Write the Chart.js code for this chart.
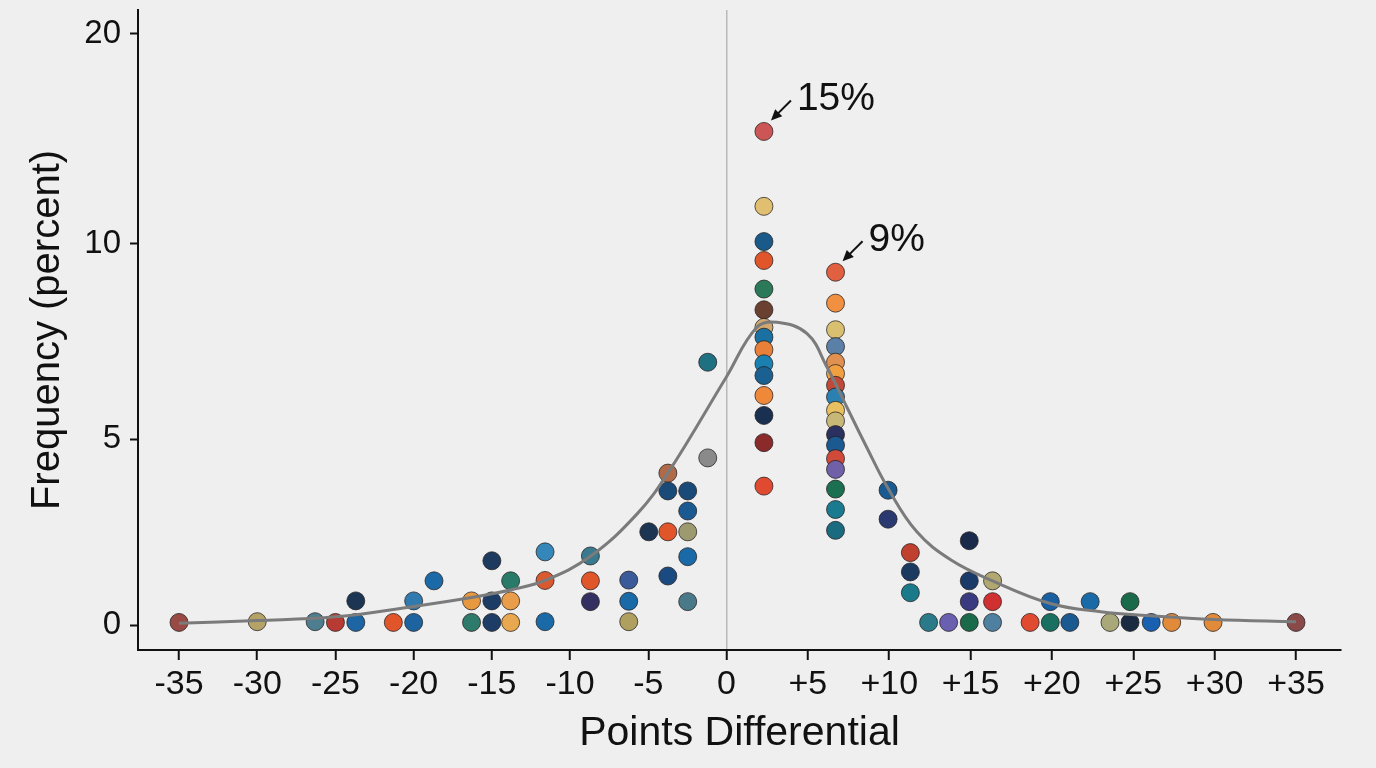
<!DOCTYPE html>
<html>
<head>
<meta charset="utf-8">
<script src="https://cdn.jsdelivr.net/npm/chart.js@4.4.1/dist/chart.umd.min.js"></script>
<style>
  html, body { margin: 0; padding: 0; background: #efefef; }
  canvas { display: block; background: #efefef; }
</style>
</head>
<body>
<canvas id="c" width="1376" height="768"></canvas>
<script>
// ---- DATA ----
const xTicks = [-35, -30, -25, -20, -15, -10, -5, 0, 5, 10, 15, 20, 25, 30, 35];
const yTicks = [0, 5, 10, 20];

// observed frequencies (points differential, percent)
const pointX = [
  -35, -30, -26.3, -25, -23.7, -23.7, -21.3, -20, -20, -18.7,
  -16.3, -16.3, -15, -15, -15, -13.8, -13.8, -13.8, -11.6, -11.6, -11.6,
  -8.7, -8.7, -8.7, -6.25, -6.25, -6.25, -4.97, -3.75, -3.75, -3.75, -3.75,
  -2.48, -2.48, -2.48, -2.48, -2.48, -1.2, -1.2,
  2.3, 2.3, 2.3, 2.3, 2.3, 2.3, 2.3, 2.3, 2.3, 2.3, 2.3, 2.3, 2.3, 2.3, 2.3,
  6.7, 6.7, 6.7, 6.7, 6.7, 6.7, 6.7, 6.7, 6.7, 6.7, 6.7, 6.7, 6.7, 6.7, 6.7, 6.7, 6.7,
  9.93, 9.93, 11.3, 11.3, 11.3, 12.42, 13.65, 14.92, 14.92, 14.92, 14.92,
  16.35, 16.35, 16.35, 18.66, 19.9, 19.9, 21.1, 22.35, 23.57, 24.8, 24.8,
  26.1, 27.36, 29.9, 35
];
const pointY = [
  0.07, 0.09, 0.09, 0.07, 0.07, 0.65, 0.07, 0.07, 0.65, 1.19,
  0.07, 0.65, 0.07, 0.65, 1.73, 0.07, 0.65, 1.19, 0.09, 1.2, 1.97,
  0.63, 1.19, 1.86, 0.09, 0.64, 1.21, 2.51, 1.32, 2.51, 3.61, 4.09,
  0.63, 1.84, 2.51, 3.07, 3.61, 4.5, 6.97,
  15.35, 11.78, 10.1, 9.57, 8.84, 8.31, 7.86, 7.61, 7.29, 6.93, 6.63, 6.12, 5.61, 4.91, 3.74,
  9.27, 8.48, 7.8, 7.37, 6.97, 6.68, 6.38, 6.08, 5.74, 5.47, 5.12, 4.84, 4.48, 4.19, 3.66, 3.11, 2.55,
  2.85, 3.63, 0.87, 1.43, 1.95, 0.07, 0.07, 0.07, 0.63, 1.19, 2.27,
  0.07, 0.63, 1.19, 0.07, 0.07, 0.63, 0.07, 0.63, 0.07, 0.07, 0.63,
  0.07, 0.07, 0.07, 0.07
];

// fitted curve
const curveX = [-35, -30, -25, -20, -16.3, -13.75, -11.6, -8.7, -5.7, -3.75, 0, 1.85, 3.1, 4.95, 6.18, 7.4, 8.6, 9.9, 11.7, 13.8, 16.35, 19.9, 23, 26.1, 30, 35];
const curveY = [0.05, 0.12, 0.22, 0.5, 0.74, 0.95, 1.2, 1.85, 3.0, 4.09, 6.6, 7.86, 7.99, 7.7, 6.84, 5.82, 4.8, 3.7, 2.51, 1.75, 1.19, 0.58, 0.36, 0.25, 0.15, 0.09];

// callout labels (index into the point arrays)
const calloutIndex = [39, 54];
const calloutText = ['15%', '9%'];

// ---- STYLES ----
const pointColors = [
  '#9a4a45', '#b4a266', '#4f7d90', '#b73b33', '#1d66a3', '#1b3553', '#e0552a', '#1c63a0', '#2f7aae', '#1b6aa7',
  '#2e7b6c', '#e8983f', '#1d3d66', '#1c3c66', '#1d3a5f', '#e8a850', '#e99d4a', '#2a7a6a', '#1a6aa8', '#d95a30', '#3487b8',
  '#332f60', '#e0552a', '#3a7a8e', '#b0a060', '#1a6aa8', '#3a5a9a', '#1b3553', '#1a4a80', '#e0552a', '#1a4a78', '#b06a4a',
  '#4a7a8a', '#1a6aa8', '#9e9a70', '#1a5a90', '#1a4a78', '#8a8a8a', '#1f7080',
  '#cc5555', '#e0c070', '#1a5a8a', '#e0552a', '#2a7a5a', '#6a4030', '#d0a870', '#1a70a0', '#e8803a', '#1a80b0', '#1a6090', '#f0883a', '#1a3050', '#8a2a2a', '#e04a30',
  '#e06040', '#f09040', '#d8c070', '#5a80a8', '#e09050', '#f0a040', '#c04a3a', '#2a80b0', '#e8c060', '#c8b878', '#2a3060', '#1a5a90', '#d04a3a', '#7060a8', '#1a7050', '#1a7a90', '#1a6a80',
  '#2a3a70', '#1a5a90', '#1a7a8a', '#1a3a60', '#c04030', '#2a7a8a', '#6a60b0', '#1a6a4a', '#3a3a80', '#1a3a6a', '#1a2a4a',
  '#5080a0', '#d03030', '#b0a870', '#e04a30', '#1a7060', '#1a60a0', '#1a5a90', '#1a6aa8', '#a8a878', '#1a2a40', '#1a6a4a',
  '#1a60b0', '#e08a3a', '#e08a3a', '#8a4a4a'
];

const FONT = '"Liberation Sans", Arial, Helvetica, sans-serif';
const INK = '#111111';

// piecewise-linear scale (axis spacing in the picture is not uniform)
class PiecewiseScale extends Chart.LinearScale {
  static id = 'piecewise';
  _toDec(v) {
    const k = this.options.knots;
    let i = 0;
    while (i < k.length - 2 && v > k[i + 1][0]) i++;
    const a = k[i], b = k[i + 1];
    return a[1] + (v - a[0]) * (b[1] - a[1]) / (b[0] - a[0]);
  }
  getPixelForValue(value) {
    return this.getPixelForDecimal(this._toDec(value));
  }
  getValueForPixel(pixel) {
    const d = this.getDecimalForPixel(pixel);
    const k = this.options.knots;
    let i = 0;
    while (i < k.length - 2 && d > k[i + 1][1]) i++;
    const a = k[i], b = k[i + 1];
    return a[0] + (d - a[1]) * (b[0] - a[0]) / (b[1] - a[1]);
  }
}
Chart.register(PiecewiseScale);

const calloutPlugin = {
  id: 'callouts',
  afterDatasetsDraw(chart) {
    const ctx = chart.ctx;
    const xs = chart.scales.x, ys = chart.scales.y;
    calloutIndex.forEach((idx, n) => {
      const px = xs.getPixelForValue(pointX[idx]);
      const py = ys.getPixelForValue(pointY[idx]);
      ctx.save();
      ctx.fillStyle = INK;
      ctx.strokeStyle = INK;
      ctx.font = '39px ' + FONT;
      ctx.textAlign = 'left';
      ctx.textBaseline = 'alphabetic';
      ctx.fillText(calloutText[n], px + 33, py - 21);
      const tx = px + 27, ty = py - 31, hx = px + 7, hy = py - 11;
      const ang = Math.atan2(hy - ty, hx - tx);
      const L = 11, W = 5;
      ctx.lineWidth = 2;
      ctx.beginPath();
      ctx.moveTo(tx, ty);
      ctx.lineTo(hx - (L - 2) * Math.cos(ang), hy - (L - 2) * Math.sin(ang));
      ctx.stroke();
      ctx.beginPath();
      ctx.moveTo(hx, hy);
      ctx.lineTo(hx - L * Math.cos(ang) + W * Math.sin(ang), hy - L * Math.sin(ang) - W * Math.cos(ang));
      ctx.lineTo(hx - L * Math.cos(ang) - W * Math.sin(ang), hy - L * Math.sin(ang) + W * Math.cos(ang));
      ctx.closePath();
      ctx.fill();
      ctx.restore();
    });
  }
};

const curveData = curveX.map((x, i) => ({ x, y: curveY[i] }));
const scatterData = pointX.map((x, i) => ({ x, y: pointY[i] }));

new Chart(document.getElementById('c'), {
  type: 'scatter',
  data: {
    datasets: [
      {
        type: 'line',
        data: curveData,
        borderColor: '#7b7b7b',
        borderWidth: 3,
        pointRadius: 0,
        fill: false,
        tension: 0.4,
        order: 0
      },
      {
        type: 'scatter',
        data: scatterData,
        backgroundColor: pointColors,
        borderColor: 'rgba(35,30,30,0.75)',
        borderWidth: 1,
        pointRadius: 9,
        order: 1
      }
    ]
  },
  options: {
    responsive: false,
    animation: false,
    devicePixelRatio: 1,
    layout: { padding: { left: 0, top: 9, right: 35, bottom: 0 } },
    plugins: { legend: { display: false }, tooltip: { enabled: false } },
    scales: {
      x: {
        type: 'piecewise',
        min: -38, max: 38,
        knots: [[-35, 0.0341], [0, 0.4892], [35, 0.9626]],
        afterBuildTicks: (axis) => { axis.ticks = xTicks.map(v => ({ value: v })); },
        afterFit: (axis) => { axis.height = 118; axis.paddingLeft = 0; axis.paddingRight = 0; },
        border: { display: true, color: INK, width: 2 },
        grid: {
          drawOnChartArea: true,
          drawTicks: true,
          tickLength: 10,
          tickColor: INK,
          tickWidth: 2,
          color: (c) => (c.tick && c.tick.value === 0 ? '#b9b9b9' : 'rgba(0,0,0,0)'),
          lineWidth: 1.5
        },
        ticks: {
          autoSkip: false,
          maxRotation: 0,
          padding: 4,
          color: INK,
          font: { family: FONT, size: 34 },
          callback: (v) => (v > 0 ? '+' + v : String(v))
        },
        title: {
          display: true,
          text: 'Points Differential',
          color: INK,
          font: { family: FONT, size: 41 },
          padding: { top: 0, bottom: 10 }
        }
      },
      y: {
        type: 'piecewise',
        min: -1, max: 22,
        knots: [[0, 0.039], [5, 0.3292], [10, 0.6349], [20, 0.9626]],
        afterBuildTicks: (axis) => { axis.ticks = yTicks.map(v => ({ value: v })); },
        afterFit: (axis) => { axis.width = 138; axis.paddingTop = 0; axis.paddingBottom = 0; },
        border: { display: true, color: INK, width: 2 },
        grid: {
          drawOnChartArea: false,
          drawTicks: true,
          tickLength: 8,
          tickColor: INK,
          tickWidth: 2,
          color: INK
        },
        ticks: {
          autoSkip: false,
          padding: 9,
          color: INK,
          font: { family: FONT, size: 33 },
          callback: (v) => String(v)
        },
        title: {
          display: true,
          text: 'Frequency (percent)',
          color: INK,
          font: { family: FONT, size: 40 },
          padding: { top: 24, bottom: 0 }
        }
      }
    }
  },
  plugins: [calloutPlugin]
});
</script>
</body>
</html>
